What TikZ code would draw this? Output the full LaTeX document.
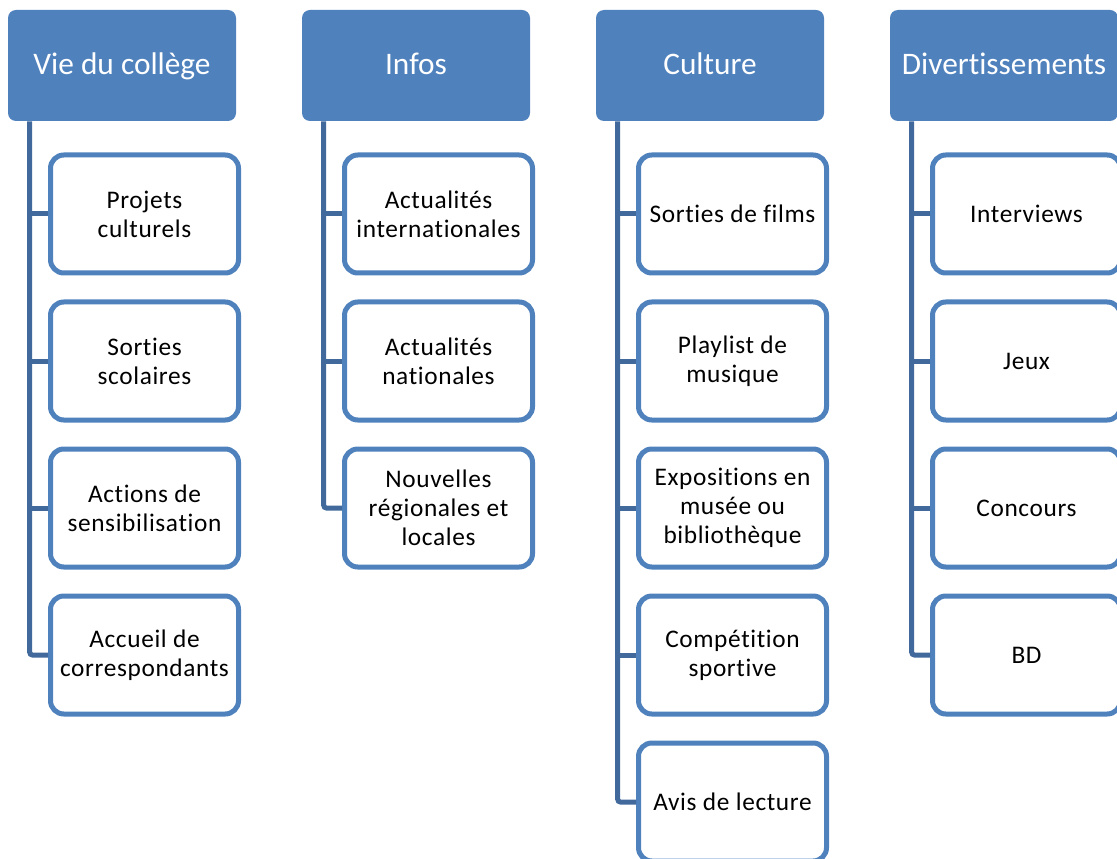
\documentclass[tikz,border=0pt]{standalone}
\usepackage{fontspec}
\setmainfont{Carlito}[Ligatures=NoCommon]
\newfontfamily\itemfont{Carlito}[Ligatures=NoCommon, LetterSpace=2.5]
\usetikzlibrary{positioning}
\definecolor{catblue}{HTML}{4F81BD}
\definecolor{linkblue}{HTML}{41699C}
\tikzset{
  cat/.style={fill=catblue, text=white, rounded corners=6pt, minimum width=171pt,
    minimum height=83.25pt, text height=15pt, text depth=2.2pt,
    font=\fontsize{23.5}{28}\selectfont},
  item/.style={draw=catblue, fill=white, line width=3.75pt, rounded corners=10pt,
    minimum width=141pt, minimum height=88.5pt, align=center,
    font=\itemfont\fontsize{19}{21.75}\selectfont},
  link/.style={draw=linkblue, line width=3.75pt, rounded corners=2pt}
}
\begin{document}
\begin{tikzpicture}[x=0.75pt, y=-0.75pt]
\useasboundingbox (0,0) rectangle (1117,859);
\clip (0,0) rectangle (1117,859);
% headers
\node[cat] (vie) at (122,65.5) {Vie du collège};
\node[cat] (infos) at (416,65.5) {Infos};
\node[cat] (cult) at (710,65.5) {Culture};
\node[cat] (div) at (1004,65.5) {Divertissements};
% Vie du college
\node[item] (vie1) at (144.5,214) {Projets\\culturels};
\node[item] (vie2) at (144.5,361) {Sorties\\scolaires};
\node[item] (vie3) at (144.5,508) {Actions de\\sensibilisation};
\node[item] (vie4) at (144.5,655) {Accueil de\\correspondants};
% Infos
\node[item] (inf1) at (438.5,214) {Actualités\\internationales};
\node[item] (inf2) at (438.5,361) {Actualités\\nationales};
\node[item] (inf3) at (438.5,508) {Nouvelles\\régionales et\\locales};
% Culture
\node[item] (cul1) at (732.5,214) {Sorties de films};
\node[item] (cul2) at (732.5,361) {Playlist de\\musique};
\node[item] (cul3) at (732.5,508) {Expositions en\\musée ou\\bibliothèque};
\node[item] (cul4) at (732.5,655) {Compétition\\sportive};
\node[item] (cul5) at (732.5,802) {Avis de lecture};
% Divertissements
\node[item] (div1) at (1026.5,214) {Interviews};
\node[item] (div2) at (1026.5,361) {Jeux};
\node[item] (div3) at (1026.5,508) {Concours};
\node[item] (div4) at (1026.5,655) {BD};
% connectors
\coordinate (vvie) at ([xshift=16.5pt]vie.south west);
\coordinate (vinf) at ([xshift=16.5pt]infos.south west);
\coordinate (vcul) at ([xshift=16.5pt]cult.south west);
\coordinate (vdiv) at ([xshift=16.5pt]div.south west);
\draw[link] (vvie) |- (vie4.west);
\draw[link] (vie1.west) -- (vie1.west -| vvie);
\draw[link] (vie2.west) -- (vie2.west -| vvie);
\draw[link] (vie3.west) -- (vie3.west -| vvie);
\draw[link] (vinf) |- (inf3.west);
\draw[link] (inf1.west) -- (inf1.west -| vinf);
\draw[link] (inf2.west) -- (inf2.west -| vinf);
\draw[link] (vcul) |- (cul5.west);
\draw[link] (cul1.west) -- (cul1.west -| vcul);
\draw[link] (cul2.west) -- (cul2.west -| vcul);
\draw[link] (cul3.west) -- (cul3.west -| vcul);
\draw[link] (cul4.west) -- (cul4.west -| vcul);
\draw[link] (vdiv) |- (div4.west);
\draw[link] (div1.west) -- (div1.west -| vdiv);
\draw[link] (div2.west) -- (div2.west -| vdiv);
\draw[link] (div3.west) -- (div3.west -| vdiv);
\end{tikzpicture}
\end{document}
